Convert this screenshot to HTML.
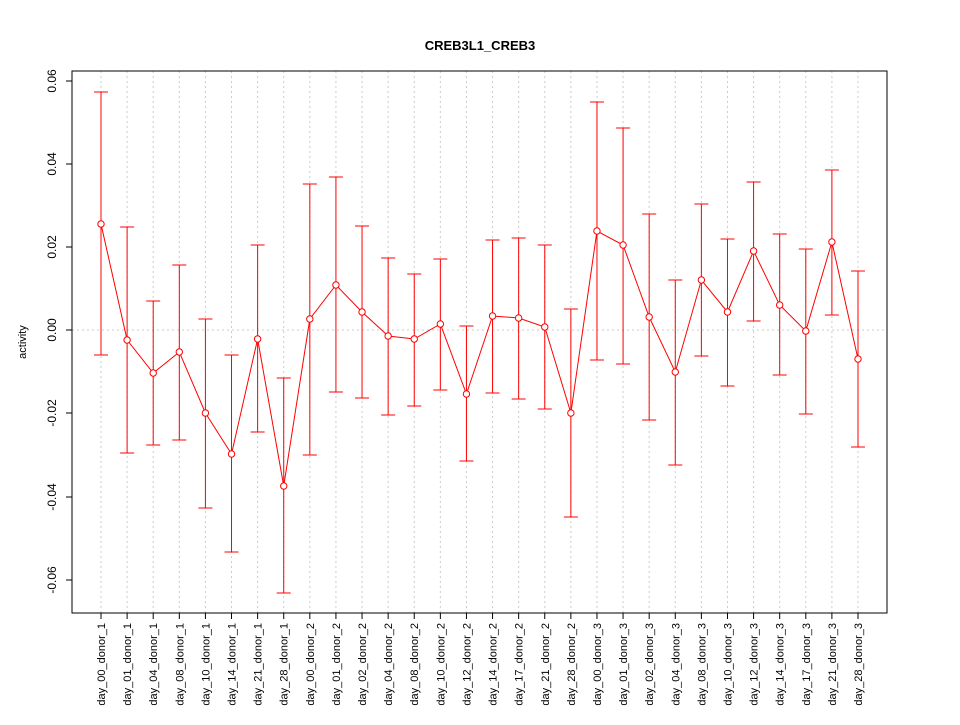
<!DOCTYPE html>
<html><head><meta charset="utf-8"><style>body{margin:0;background:#fff}</style></head><body>
<svg width="960" height="720" xmlns="http://www.w3.org/2000/svg" font-family="Liberation Sans, sans-serif">
<rect width="960" height="720" fill="#fff"/>
<text x="480" y="50" font-size="13" font-weight="bold" text-anchor="middle">CREB3L1_CREB3</text>
<g id="g"></g>
<rect x="72" y="71" width="815" height="542" fill="none" stroke="#000"/>
<g font-size="12" text-anchor="middle">
<line x1="72" x2="66" y1="81" y2="81" stroke="#000"/><text transform="translate(56,81) rotate(-90)">0.06</text>
<line x1="72" x2="66" y1="164" y2="164" stroke="#000"/><text transform="translate(56,164) rotate(-90)">0.04</text>
<line x1="72" x2="66" y1="247" y2="247" stroke="#000"/><text transform="translate(56,247) rotate(-90)">0.02</text>
<line x1="72" x2="66" y1="330" y2="330" stroke="#000"/><text transform="translate(56,330) rotate(-90)">0.00</text>
<line x1="72" x2="66" y1="413" y2="413" stroke="#000"/><text transform="translate(56,413) rotate(-90)">-0.02</text>
<line x1="72" x2="66" y1="497" y2="497" stroke="#000"/><text transform="translate(56,497) rotate(-90)">-0.04</text>
<line x1="72" x2="66" y1="580" y2="580" stroke="#000"/><text transform="translate(56,580) rotate(-90)">-0.06</text>
<text transform="translate(26,342) rotate(-90)" font-size="11">activity</text>
</g>
</svg>
<script>
const labels=["day_00_donor_1","day_01_donor_1","day_04_donor_1","day_08_donor_1","day_10_donor_1","day_14_donor_1","day_21_donor_1","day_28_donor_1",
"day_00_donor_2","day_01_donor_2","day_02_donor_2","day_04_donor_2","day_08_donor_2","day_10_donor_2","day_12_donor_2","day_14_donor_2","day_17_donor_2","day_21_donor_2","day_28_donor_2",
"day_00_donor_3","day_01_donor_3","day_02_donor_3","day_04_donor_3","day_08_donor_3","day_10_donor_3","day_12_donor_3","day_14_donor_3","day_17_donor_3","day_21_donor_3","day_28_donor_3"];
const d=[[224,92,355],[340,227,453],[373,301,445],[352,265,440],[413,319,508],[454,355,552],[339,245,432],[486,378,593],
[319,184,455],[285,177,392],[312,226,398],[336,258,415],[339,274,406],[324,259,390],[394,326,461],[316,240,393],[318,238,399],[327,245,409],[413,309,517],
[231,102,360],[245,128,364],[317,214,420],[372,280,465],[280,204,356],[312,239,386],[251,182,321],[305,234,375],[331,249,414],[242,170,315],[359,271,447]];
let s='<line x1="72" x2="887" y1="330" y2="330" stroke="#ccc" stroke-dasharray="2,3"/>';
let pts=[];
d.forEach((v,i)=>{const x=101+i*(757/29);
s+=`<line x1="${x}" x2="${x}" y1="71" y2="613" stroke="#ccc" stroke-dasharray="2,3"/>`;
s+=`<line x1="${x}" x2="${x}" y1="613" y2="619" stroke="#000"/>`;
s+=`<text transform="translate(${x+4},623) rotate(-90)" font-size="11" text-anchor="end">${labels[i]}</text>`;
pts.push(x+","+v[0]);});
d.forEach((v,i)=>{const x=101+i*(757/29);
s+=`<line x1="${x}" x2="${x}" y1="${v[1]}" y2="${v[2]}" stroke="red"/>`;
s+=`<line x1="${x-7}" x2="${x+7}" y1="${v[1]}" y2="${v[1]}" stroke="red"/>`;
s+=`<line x1="${x-7}" x2="${x+7}" y1="${v[2]}" y2="${v[2]}" stroke="red"/>`;});
s+=`<polyline points="${pts.join(' ')}" fill="none" stroke="red"/>`;
d.forEach((v,i)=>{const x=101+i*(757/29);s+=`<circle cx="${x}" cy="${v[0]}" r="3.2" fill="#fff" stroke="red"/>`;});
document.getElementById('g').innerHTML=s;
</script>
</body></html>
